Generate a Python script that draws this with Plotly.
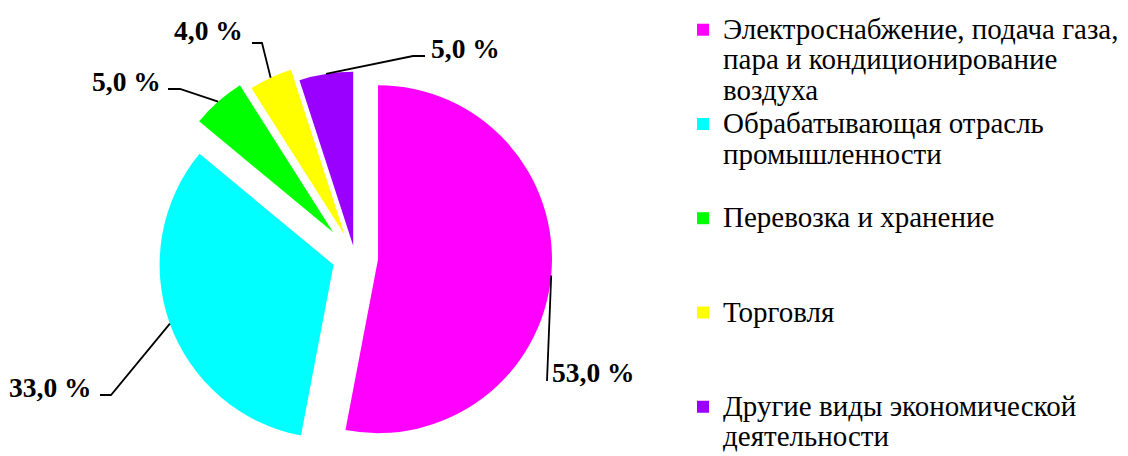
import math
import plotly.graph_objects as go

# ---- data ----
categories = [
    "Электроснабжение, подача газа,<br>пара и кондиционирование<br>воздуха",
    "Обрабатывающая отрасль<br>промышленности",
    "Перевозка и хранение",
    "Торговля",
    "Другие виды экономической<br>деятельности",
]
shares = [53.0, 33.0, 5.0, 4.0, 5.0]

# ---- style ----
colors = ["#FF00FF", "#00FFFF", "#00FF00", "#FFFF00", "#9900FF"]
pulls = [0.133, 0.131, 0.19, 0.139, 0.066]
legend_pad = [0, 1, 2, 2, 0]          # blank lines to space legend entries evenly
W, H = 1128, 456
OFF = 8                                # page offset of the figure (body margin)
PIE_CX, PIE_CY = 355, 257              # pie centre in page pixels
FONT = "Liberation Serif"
LEGEND_BASE = 23.4                     # sets legend line pitch (1.3 x size)
LEGEND_GLYPH = 29                      # visible legend glyph size

# label placement (page pixels): text anchor, side, leader elbow, leader end
label_pos = [
    dict(x=550, y=372, side="left", elbow=(547, 381), end=(547, 381)),
    dict(x=94, y=387, side="right", elbow=(111, 395), end=(100, 395)),
    dict(x=163, y=81, side="right", elbow=(180, 89), end=(168, 89)),
    dict(x=245, y=31, side="right", elbow=(262, 43), end=(252, 43)),
    dict(x=429, y=48, side="left", elbow=(413, 56), end=(425, 56)),
]


def px(x):
    return (x - OFF) / W


def py(y):
    return 1 - (y - OFF) / H


def legend_name(cat, pad):
    lines = [f"<span style='font-size:{LEGEND_GLYPH}px'>{ln}</span>" for ln in cat.split("<br>")]
    return "<br>".join(lines) + "<br> " * pad


legend_names = [legend_name(c, p) for c, p in zip(categories, legend_pad)]

# pie box: centred at PIE_CX/PIE_CY, domain y from paper bottom
half = H - (PIE_CY - OFF)
fig = go.Figure(
    go.Pie(
        labels=legend_names,
        values=shares,
        marker=dict(colors=colors, line=dict(width=0)),
        pull=pulls,
        sort=False,
        direction="clockwise",
        rotation=0,
        textinfo="none",
        hoverinfo="percent",
        domain=dict(
            x=[px(PIE_CX - half), px(PIE_CX + half)],
            y=[0, 2 * half / H],
        ),
    )
)

# geometry of the pie as plotly draws it -> anchor points for leader lines
r = half / (1 + max(pulls))
total = sum(shares)
cum = 0.0
annotations = []
shapes = []
for v, p, lp in zip(shares, pulls, label_pos):
    theta = math.radians((cum + v / 2) / total * 360)
    cum += v
    sx, sy = math.sin(theta), -math.cos(theta)
    ax = PIE_CX + (1 + p) * r * sx
    ay = PIE_CY + (1 + p) * r * sy
    ex, ey = lp["elbow"]
    fx, fy = lp["end"]
    shapes.append(
        dict(
            type="path",
            xref="paper",
            yref="paper",
            path=f"M {px(ax)},{py(ay)} L {px(ex)},{py(ey)} L {px(fx)},{py(fy)}",
            line=dict(color="black", width=1.8),
        )
    )
    annotations.append(
        dict(
            x=px(lp["x"]),
            y=py(lp["y"]),
            xref="paper",
            yref="paper",
            xanchor=lp["side"],
            yanchor="middle",
            showarrow=False,
            text="<b>" + f"{v:.1f}".replace(".", ",") + " %</b>",
            font=dict(family=FONT, size=27.5, color="black"),
        )
    )

fig.update_layout(
    width=W,
    height=H,
    margin=dict(l=0, r=0, t=0, b=0),
    paper_bgcolor="white",
    plot_bgcolor="white",
    showlegend=True,
    legend=dict(
        x=px(683),
        y=1,
        xanchor="left",
        yanchor="top",
        valign="top",
        itemwidth=30,
        font=dict(family=FONT, size=LEGEND_BASE, color="black"),
        bgcolor="rgba(0,0,0,0)",
        traceorder="normal",
    ),
    shapes=shapes,
    annotations=annotations,
)

fig.write_html("out.html")
